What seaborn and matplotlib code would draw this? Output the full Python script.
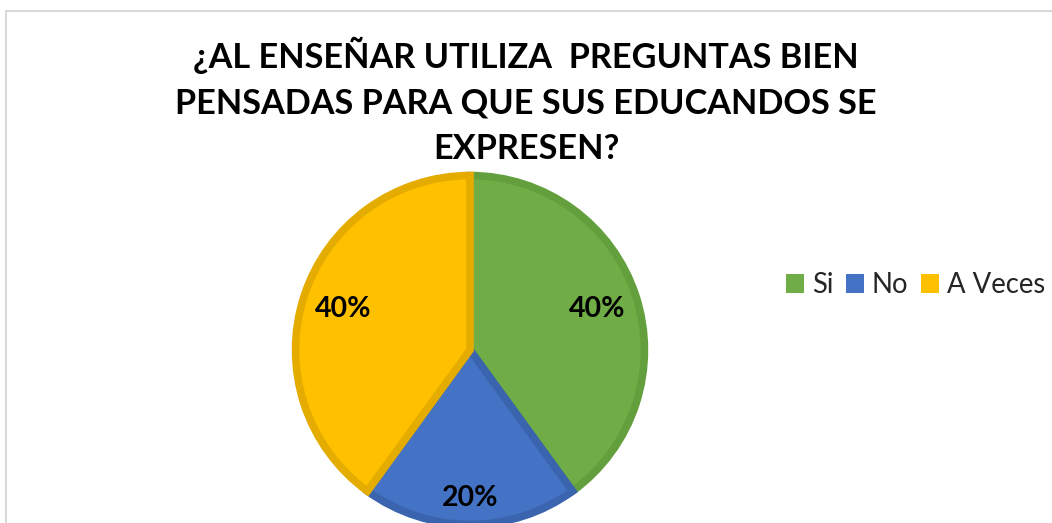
import matplotlib.pyplot as plt
import seaborn as sns
from matplotlib.patches import Patch, Rectangle
import numpy as np

categorias = ['Si', 'No', 'A Veces']
porcentajes = [40, 20, 40]
colores = ['#70AD47', '#4472C4', '#FFC000']
bordes = ['#63A03D', '#3B64AE', '#E5AC00']
titulo = '¿AL ENSEÑAR UTILIZA  PREGUNTAS BIEN\nPENSADAS PARA QUE SUS EDUCANDOS SE\nEXPRESEN?'

sns.set_theme(style='white')
plt.rcParams['font.family'] = ['Lato', 'DejaVu Sans']

fig = plt.figure(figsize=(10.52, 5.23), dpi=100)
fig.patch.set_facecolor('white')

# marco del grafico (se sale por la derecha y abajo)
fig.add_artist(Rectangle((6 / 1052, -0.2), 2, 1.2 - 11 / 523, transform=fig.transFigure,
                         fill=False, edgecolor='#D9D9D9', lw=1.5))

ax = fig.add_axes([292 / 1052, -5 / 523, 356 / 1052, 356 / 523])
wedges, _ = ax.pie(porcentajes, colors=colores, startangle=90, counterclock=False,
                   radius=0.98, wedgeprops=dict(linewidth=5.5))
for w, b in zip(wedges, bordes):
    w.set_edgecolor(b)
ax.set_xlim(-1, 1)
ax.set_ylim(-1, 1)
ax.set_aspect('equal')
ax.axis('off')

# etiquetas de porcentaje
dist = [0.75, 0.83, 0.75]
for w, p, r in zip(wedges, porcentajes, dist):
    ang = np.deg2rad((w.theta1 + w.theta2) / 2)
    ax.text(r * np.cos(ang), r * np.sin(ang), f'{p}%', ha='center', va='center',
            fontsize=20.5, fontweight='bold', color='black')

fig.text(0.5, 1 - 101 / 523, titulo, ha='center', va='center', fontsize=24.7,
         fontweight='bold', linespacing=1.52, color='black')

handles = [Patch(facecolor=c, edgecolor='none') for c in colores]
fig.legend(handles, categorias, loc='center left', bbox_to_anchor=(786 / 1052, 1 - 285 / 523),
           ncol=3, frameon=False, fontsize=19.8, handlelength=0.65, handleheight=0.65,
           handletextpad=0.3, columnspacing=0.45, borderpad=0, borderaxespad=0)

fig.savefig('out.png', dpi=100)
